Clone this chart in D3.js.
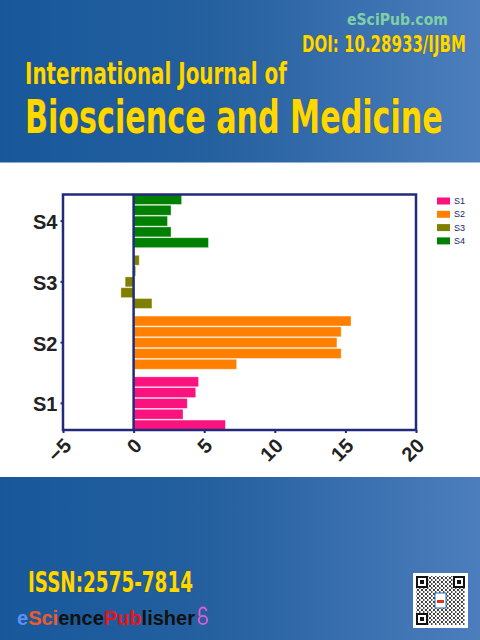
<!DOCTYPE html>
<html>
<head>
<meta charset="utf-8">
<script src="https://cdn.jsdelivr.net/npm/d3@7"></script>
<style>
  html, body { margin: 0; padding: 0; background: #fff; }
  svg { display: block; }
</style>
</head>
<body>
<script>
// chart values
var groups = ["S4", "S3", "S2", "S1"];
var legendNames = ["S1", "S2", "S3", "S4"];
var s1Values = [4.6, 4.4, 3.8, 3.5, 6.5];
var s2Values = [15.4, 14.7, 14.4, 14.7, 7.3];
var s3Values = [0.4, 0.15, -0.6, -0.9, 1.3];
var s4Values = [3.4, 2.65, 2.4, 2.65, 5.3];
var xTicks = [-5, 0, 5, 10, 15, 20];
var colors = {S1: "#fa137f", S2: "#ff8000", S3: "#808000", S4: "#008000"};

var W = 480, H = 640;
var seriesValues = {S1: s1Values, S2: s2Values, S3: s3Values, S4: s4Values};

const svg = d3.select("body").append("svg")
  .attr("width", W)
  .attr("height", H);

// background gradient
const defs = svg.append("defs");
const grad = defs.append("linearGradient").attr("id", "bg")
  .attr("x1", "0%").attr("x2", "100%").attr("y1", "0%").attr("y2", "0%");
grad.append("stop").attr("offset", "0%").attr("stop-color", "#17589b");
grad.append("stop").attr("offset", "45%").attr("stop-color", "#25609f");
grad.append("stop").attr("offset", "100%").attr("stop-color", "#4c7ebd");

const qrPat = defs.append("pattern").attr("id", "qrdots")
  .attr("width", 4).attr("height", 4).attr("patternUnits", "userSpaceOnUse");
qrPat.append("rect").attr("width", 4).attr("height", 4).attr("fill", "#fff");
qrPat.append("rect").attr("width", 2).attr("height", 2).attr("fill", "#111");
qrPat.append("rect").attr("x", 2).attr("y", 2).attr("width", 1.5).attr("height", 2).attr("fill", "#222");

svg.append("rect").attr("width", W).attr("height", H).attr("fill", "url(#bg)");
svg.append("rect").attr("x", 0).attr("y", 162.5).attr("width", W).attr("height", 314.5).attr("fill", "#fff");

// header texts: drawn at natural width, then squeezed to the cover's width
const headFont = "'Liberation Sans Narrow', 'DejaVu Sans Condensed', sans-serif";
function fitText(txt, x, y, size, len, opts) {
  const t = svg.append("text")
    .attr("font-family", opts.font)
    .attr("font-size", size)
    .attr("font-weight", opts.weight || "normal")
    .attr("fill", opts.fill)
    .text(txt);
  if (opts.stroke) {
    t.attr("stroke", opts.stroke).attr("stroke-width", 0.6).attr("paint-order", "stroke");
  }
  const natural = t.node().getComputedTextLength();
  t.attr("transform", `translate(${x},${y}) scale(${len / natural},1)`);
  return t;
}
fitText("eSciPub.com", 347, 25, 16, 101, {font: "'DejaVu Sans', sans-serif", weight: "bold", fill: "#7fd0a6"});
const yellow = {font: headFont, weight: "bold", fill: "#ffd800", stroke: "#5a4a10"};
fitText("DOI: 10.28933/IJBM", 302, 52, 23, 164, yellow);
fitText("International Journal of", 25, 84, 30, 262, yellow);
fitText("Bioscience and Medicine", 25, 133, 46, 418, yellow);
fitText("ISSN:2575-7814", 28, 592, 28, 165, yellow);

// publisher name
const pub = svg.append("text")
  .attr("font-family", "'Liberation Sans', Arial, sans-serif")
  .attr("font-size", 20)
  .attr("font-weight", "bold");
[["e", "#5d8ff5"], ["Sci", "#f15a24"], ["ence", "#111"], ["Pub", "#e8141a"], ["lisher", "#111"]]
  .forEach(p => pub.append("tspan").attr("fill", p[1]).text(p[0]));
pub.attr("transform", `translate(17,625) scale(${178 / pub.node().getComputedTextLength()},1)`);
// open-access lock
const lock = svg.append("g").attr("fill", "none").attr("stroke", "#e85ad8").attr("stroke-width", 1.8);
lock.append("path").attr("d", "M199.5,616 v-5 a3.5,3.5 0 0 1 7,0");
lock.append("circle").attr("cx", 203).attr("cy", 620).attr("r", 4.2);

// qr code placeholder
const qr = svg.append("g").attr("transform", "translate(413,573)");
qr.append("rect").attr("width", 55).attr("height", 55).attr("fill", "#fff");
qr.append("rect").attr("x", 3).attr("y", 3).attr("width", 49).attr("height", 49).attr("fill", "url(#qrdots)").attr("opacity", 0.8);
[[3, 3], [40, 3], [3, 40]].forEach(c => {
  qr.append("rect").attr("x", c[0]).attr("y", c[1]).attr("width", 12).attr("height", 12).attr("fill", "#111");
  qr.append("rect").attr("x", c[0] + 2).attr("y", c[1] + 2).attr("width", 8).attr("height", 8).attr("fill", "#fff");
  qr.append("rect").attr("x", c[0] + 4).attr("y", c[1] + 4).attr("width", 4).attr("height", 4).attr("fill", "#111");
});
qr.append("rect").attr("x", 22).attr("y", 20).attr("width", 11).attr("height", 15).attr("fill", "#fff").attr("stroke", "#2a6ab0");
qr.append("rect").attr("x", 24).attr("y", 27).attr("width", 7).attr("height", 3).attr("fill", "#e03020");

// chart
const x = d3.scaleLinear().domain([-5, 20]).range([63, 416]);
const y = d3.scaleBand().domain(groups).range([194.5, 430]).paddingInner(0.125).paddingOuter(0);
const yi = d3.scaleBand().domain(d3.range(5)).range([0, y.bandwidth()]).paddingInner(0.08);

const bars = [];
groups.forEach(g => seriesValues[g].forEach((v, i) => bars.push({g: g, i: i, v: v})));

svg.append("g").selectAll("rect")
  .data(bars)
  .join("rect")
    .attr("x", d => x(Math.min(0, d.v)))
    .attr("y", d => y(d.g) + yi(d.i))
    .attr("width", d => Math.abs(x(d.v) - x(0)))
    .attr("height", yi.bandwidth())
    .attr("fill", d => colors[d.g])
    .attr("stroke", "#fff")
    .attr("stroke-opacity", 0.45)
    .attr("stroke-width", 0.8);

const navy = "#232a7c";
svg.append("rect")
  .attr("x", x(-5)).attr("y", 194.5)
  .attr("width", x(20) - x(-5)).attr("height", 430 - 194.5)
  .attr("fill", "none")
  .attr("stroke", navy)
  .attr("stroke-width", 2.5);
svg.append("line")
  .attr("x1", x(0)).attr("x2", x(0))
  .attr("y1", 194.5).attr("y2", 430)
  .attr("stroke", navy)
  .attr("stroke-width", 2.5);

// y axis
const yAxis = svg.append("g")
  .attr("transform", `translate(${x(-5)},0)`)
  .call(d3.axisLeft(y).tickSize(2.5).tickPadding(3));
yAxis.select(".domain").remove();
yAxis.selectAll("line").attr("stroke", navy).attr("stroke-width", 2);
yAxis.selectAll("text")
  .attr("font-family", "'Liberation Sans', Arial, sans-serif")
  .attr("font-size", 20)
  .attr("font-weight", "bold")
  .attr("fill", "#222")
  .attr("dy", "0.4em");

// x axis
const xAxis = svg.append("g")
  .attr("transform", "translate(0,430)")
  .call(d3.axisBottom(x).tickValues(xTicks).tickSize(3).tickFormat(d3.format("d")));
xAxis.select(".domain").remove();
xAxis.selectAll("line").attr("stroke", navy).attr("stroke-width", 2);
xAxis.selectAll("text")
  .attr("font-family", "'Liberation Sans', Arial, sans-serif")
  .attr("font-size", 20)
  .attr("font-weight", "bold")
  .attr("fill", "#222")
  .attr("text-anchor", "end")
  .attr("y", 0)
  .attr("dy", 0)
  .attr("transform", "translate(9,17) rotate(-45)");

// legend
const legend = svg.append("g").selectAll("g")
  .data(legendNames)
  .join("g")
    .attr("transform", (d, i) => `translate(437,${197.5 + i * 13.3})`);
legend.append("rect")
  .attr("width", 13).attr("height", 7)
  .attr("fill", d => colors[d]);
legend.append("text")
  .attr("x", 17).attr("y", 6.5)
  .attr("font-family", "'Liberation Sans', Arial, sans-serif")
  .attr("font-size", 9)
  .attr("fill", "#1c2470")
  .text(d => d);
</script>
</body>
</html>
